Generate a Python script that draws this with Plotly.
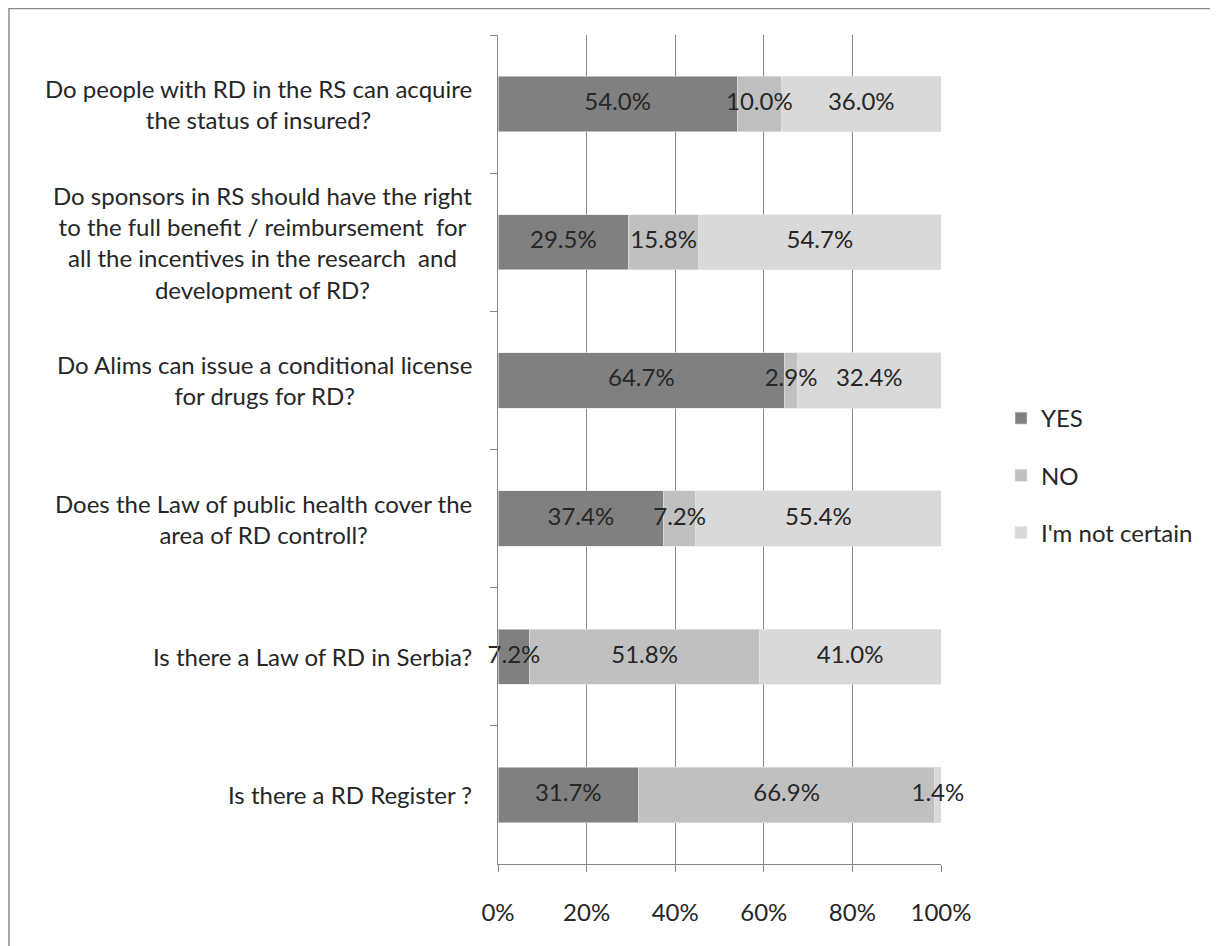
import plotly.graph_objects as go

categories = [
    "Do people with RD in the RS can acquire<br>the status of insured?",
    "Do sponsors in RS should have the right<br>to the full benefit / reimbursement  for<br>all the incentives in the research  and<br>development of RD?",
    "Do Alims can issue a conditional license<br>for drugs for RD?",
    "Does the Law of public health cover the<br>area of RD controll?",
    "Is there a Law of RD in Serbia?",
    "Is there a RD Register ?",
]
cat_keys = ["Q1", "Q2", "Q3", "Q4", "Q5", "Q6"]
yes_vals = [54.0, 29.5, 64.7, 37.4, 7.2, 31.7]
no_vals = [10.0, 15.8, 2.9, 7.2, 51.8, 66.9]
unsure_vals = [36.0, 54.7, 32.4, 55.4, 41.0, 1.4]
series_names = ["YES", "NO", "I'm not certain"]
series_colors = ["#808080", "#C0C0C0", "#D9D9D9"]
x_ticks = [0, 20, 40, 60, 80, 100]
x_tick_labels = ["0%", "20%", "40%", "60%", "80%", "100%"]

FONT = "Lato"
TXT = "#262626"

# page body has an 8px margin; figure coordinates below are page coords - 8
W, H = 1210, 938
L, R, T, B = 490, 933, 27, 856

fig = go.Figure()
series = [yes_vals, no_vals, unsure_vals]
for name, vals, col in zip(series_names, series, series_colors):
    fig.add_trace(go.Bar(
        y=cat_keys, x=vals, name=name, orientation="h",
        marker=dict(color=col, line=dict(color="#E6E6E6", width=0.6)),
        width=0.4, legendgroup=name, hoverinfo="x+name",
    ))

# data labels at segment centres
lab_x, lab_y, lab_t = [], [], []
for i, k in enumerate(cat_keys):
    start = 0.0
    for vals in series:
        v = vals[i]
        lab_x.append(start + v / 2)
        lab_y.append(k)
        lab_t.append(f"{v:.1f}%")
        start += v
fig.add_trace(go.Scatter(
    x=lab_x, y=lab_y, text=lab_t, mode="text", textposition="middle center",
    textfont=dict(family=FONT, size=24, color=TXT), showlegend=False,
    hoverinfo="skip", cliponaxis=False,
))

# category labels (centred multi-line blocks, right-aligned)
for k, c in zip(cat_keys, categories):
    fig.add_annotation(
        x=(466 - L) / (R - L), xref="paper", y=k, yref="y", text=c,
        showarrow=False, xanchor="right", yanchor="middle", align="center",
        font=dict(family=FONT, size=24, color=TXT),
    )

# outer frame
fig.add_shape(type="rect", xref="paper", yref="paper",
              x0=(1 - L) / (R - L), x1=(1240 - L) / (R - L),
              y0=(B - 960) / (B - T), y1=(B - 0.5) / (B - T),
              line=dict(color="#8C8C8C", width=1.5), fillcolor="rgba(0,0,0,0)", layer="below")

fig.update_layout(
    width=W, height=H,
    margin=dict(l=L, r=W - R, t=T, b=H - B, pad=0),
    barmode="stack", bargap=0.6,
    plot_bgcolor="white", paper_bgcolor="white",
    font=dict(family=FONT, size=24, color=TXT),
    showlegend=True,
    legend=dict(x=(993 - L) / (R - L), y=(B - 388) / (B - T), xanchor="left", yanchor="top",
                font=dict(family=FONT, size=24, color=TXT), tracegroupgap=23,
                itemwidth=30, bgcolor="rgba(0,0,0,0)", traceorder="grouped"),
    xaxis=dict(range=[0, 100], tickvals=x_ticks, ticktext=x_tick_labels,
               showgrid=True, gridcolor="#878787", gridwidth=1,
               showline=True, linecolor="#878787", linewidth=1,
               ticks="outside", ticklen=7, tickcolor="#878787",
               tickfont=dict(family=FONT, size=24, color=TXT),
               ticklabelstandoff=20, zeroline=False, fixedrange=True),
    yaxis=dict(categoryorder="array", categoryarray=cat_keys, autorange="reversed",
               showticklabels=False, showgrid=False, showline=True,
               linecolor="#878787", linewidth=1, ticks="outside", ticklen=7,
               tickcolor="#878787", tickson="boundaries", zeroline=False, fixedrange=True),
)

fig.write_html("out.html")
